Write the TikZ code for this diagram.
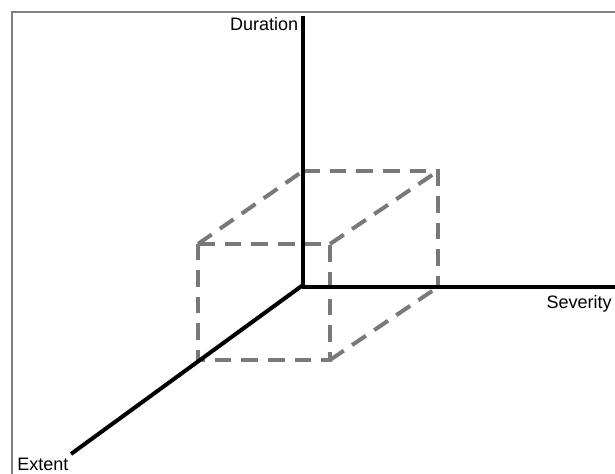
\documentclass[tikz,border=0pt]{standalone}
\usepackage{fontspec}
\setmainfont{Liberation Sans}
\begin{document}
\begin{tikzpicture}[x=0.75pt,y=-0.75pt,
  axis/.style={line width=3pt, black},
  cube/.style={line width=3pt, color=gray!95!black, dash pattern=on 12.5pt off 7.5pt},
  lbl/.style={inner sep=0pt, font=\fontsize{13.5pt}{16pt}\selectfont}]
\useasboundingbox (0,0) rectangle (615,474);
\clip (0,0) rectangle (615,474);
\fill[white] (0,0) rectangle (615,474);
\draw[line width=1.6pt, gray] (12,12) rectangle (640,500);
% cube corners
\coordinate (b1) at (303,171);
\coordinate (b2) at (438,171);
\coordinate (b3) at (438,287);
\coordinate (f1) at (198,244);
\coordinate (f2) at (330,244);
\coordinate (f3) at (330,360);
\coordinate (f4) at (198,360);
\draw[cube] (b1) -- (b2) -- (b3);
\draw[cube] (f1) -- (f2) -- (f3) -- (f4) -- cycle;
\draw[cube] (f1) -- (b1);
\draw[cube] (f2) -- (b2);
\draw[cube] (f3) -- (b3);
% axes
\coordinate (O) at (303,285);
\coordinate (top) at (303,16);
\coordinate (sev) at (615,287);
\coordinate (ext) at (71,454);
\draw[axis] (top) -- (303,287);
\draw[axis] (301.5,287) -- (sev);
\draw[axis] (O) -- (ext);
\node[lbl, anchor=base east] (dur) at (298.5,31) {Duration};
\node[lbl, anchor=base east] (sevl) at (612,309) {Severity};
\node[lbl, anchor=base west] (extl) at (17,470) {Extent};
\end{tikzpicture}
\end{document}
